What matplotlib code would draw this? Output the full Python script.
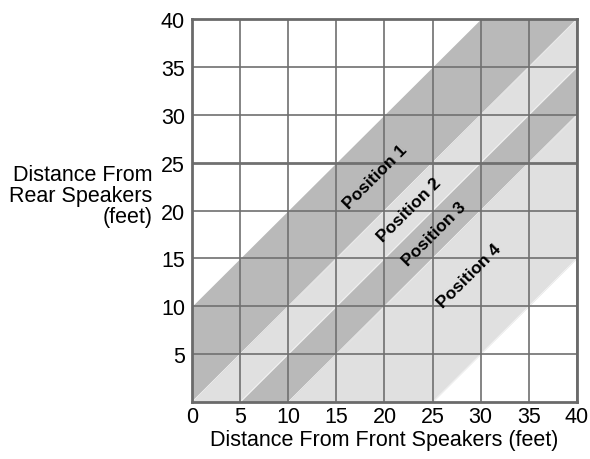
import numpy as np
import matplotlib.pyplot as plt

plt.rcParams['font.family'] = ['Liberation Sans', 'DejaVu Sans']

# полосы: y = x + смещение (верх, низ)
band_offsets = [(10, 0), (0, -5), (-5, -10), (-10, -25)]
band_colors = ['#b9b9b9', '#e0e0e0', '#b9b9b9', '#e0e0e0']
labels = ['Position 1', 'Position 2', 'Position 3', 'Position 4']
label_xy = [(19.0, 23.6), (22.6, 20.1), (25.2, 17.6), (28.8, 13.2)]

x_ticks = np.arange(0, 41, 5)
y_ticks = np.arange(5, 41, 5)

fig = plt.figure(figsize=(5.9, 4.6), dpi=100)
ax = fig.add_axes([0.3254, 0.1239, 0.6525, 0.8326])

x = np.linspace(0, 40, 401)
for (top, bottom), c in zip(band_offsets, band_colors):
    ax.fill_between(x, np.clip(x + bottom, 0, 40), np.clip(x + top, 0, 40),
                    where=(x + top > 0) & (x + bottom < 40),
                    color=c, lw=0, zorder=1)
    ax.plot(x, x + bottom, color='#f4f4f4', lw=0.6, zorder=1.5)

for v in x_ticks:
    ax.axvline(v, color='#707070', lw=1.2, zorder=2)
for v in y_ticks:
    ax.axhline(v, color='#707070', lw=2.0 if v == 25 else 1.2, zorder=2)

for t, (lx, ly) in zip(labels, label_xy):
    ax.text(lx, ly, t, rotation=45, ha='center', va='center',
            fontsize=12.5, fontweight='bold', zorder=3)

ax.set_xlim(0, 40)
ax.set_ylim(0, 40)
ax.set_xticks(x_ticks)
ax.set_yticks(y_ticks)
ax.tick_params(axis='x', length=0, labelsize=15.5, pad=3)
ax.tick_params(axis='y', length=0, labelsize=15.5, pad=5)
for s in ax.spines.values():
    s.set_color('#6a6a6a')
    s.set_linewidth(2)
    s.set_zorder(4)

ax.set_xlabel('Distance From Front Speakers (feet)', fontsize=15.5, labelpad=1)
fig.text(0.258, 0.572, 'Distance From\nRear Speakers\n(feet)', ha='right', va='center',
         fontsize=15.5, linespacing=1.0)

plt.savefig('out.png', dpi=100)
